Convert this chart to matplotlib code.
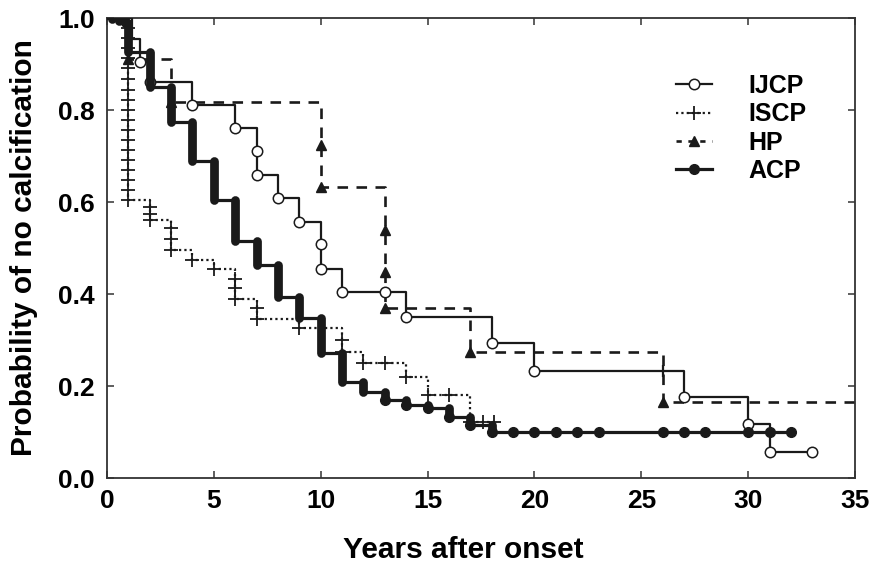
import numpy as np
import matplotlib
matplotlib.use("Agg")
import matplotlib.pyplot as plt
from matplotlib.lines import Line2D

plt.rcParams['font.family'] = ['Liberation Sans', 'DejaVu Sans']
plt.rcParams['font.weight'] = 'bold'

# ---------------- data ----------------
# IJCP: event times and survival after each event
ijcp_t = [1.15, 1.55, 2, 4, 6, 7, 7, 8, 9, 10, 10, 11, 14, 18, 20, 27, 30, 31]
ijcp_s = [0.955, 0.905, 0.86, 0.81, 0.76, 0.711, 0.659, 0.609, 0.557, 0.509, 0.454,
          0.405, 0.35, 0.293, 0.233, 0.176, 0.117, 0.057]
ijcp_cens_circ_t = [13, 33]
ijcp_cens_tick_t = [26]
ijcp_end = 33

# ISCP
iscp_t = [1] * 18 + [2, 2, 2, 3, 3, 3, 4, 5, 6, 6, 6, 7, 7, 9, 11, 11, 12, 14, 15, 17]
iscp_s = [0.978, 0.957, 0.935, 0.913, 0.891, 0.867, 0.843, 0.822, 0.800, 0.778, 0.757,
          0.735, 0.713, 0.691, 0.670, 0.648, 0.626, 0.604,
          0.59, 0.575, 0.56, 0.543, 0.52, 0.496, 0.474, 0.454, 0.433, 0.413, 0.389,
          0.37, 0.346, 0.326, 0.30, 0.274, 0.25, 0.22, 0.18, 0.122]
iscp_cens_t = [13, 16, 17.6, 18.1]
iscp_end = 18.2

# HP
hp_t = [1, 3, 10, 10, 13, 13, 13, 17, 26]
hp_s = [0.91, 0.817, 0.724, 0.633, 0.539, 0.448, 0.37, 0.275, 0.165]
hp_end = 35

# ACP
acp_t = [0.25, 0.55, 0.85, 1, 2, 3, 4, 5, 6, 7, 8, 9, 10, 11, 12, 13, 14, 15, 16, 17, 18]
acp_s = [0.997, 0.994, 0.99, 0.926, 0.85, 0.774, 0.69, 0.604, 0.515, 0.463, 0.394, 0.347,
         0.271, 0.209, 0.187, 0.17, 0.159, 0.152, 0.133, 0.115, 0.10]
acp_cens_t = [19, 20, 21, 22, 23, 26, 27, 28, 30, 31, 32]
acp_end = 32

labels = ["IJCP", "ISCP", "HP", "ACP"]
xticks = [0, 5, 10, 15, 20, 25, 30, 35]
yticks = [0.0, 0.2, 0.4, 0.6, 0.8, 1.0]


def km_xy(t, s, end):
    x = [0] + list(t) + [end]
    y = [1.0] + list(s) + [s[-1]]
    return x, y


def level_at(t, s, x):
    lv = 1.0
    for ti, si in zip(t, s):
        if ti <= x:
            lv = si
    return lv


fig = plt.figure(figsize=(8.71, 5.66), dpi=100)
ax = fig.add_axes([107 / 871, 1 - 478 / 566, (855 - 107) / 871, (478 - 18) / 566])

K = '#1a1a1a'

# HP (dashed, triangles)
x, y = km_xy(hp_t, hp_s, hp_end)
ax.plot(x, y, drawstyle='steps-post', color=K, lw=1.9, dashes=(4, 3.2), zorder=2)
ax.plot(hp_t, hp_s, ls='none', marker='^', ms=7.5, color=K, zorder=3)

# ISCP (dotted, plus)
x, y = km_xy(iscp_t, iscp_s, iscp_end)
ax.plot(x, y, drawstyle='steps-post', color=K, lw=1.6, dashes=(1, 1.4), zorder=2)
ax.plot(iscp_t, iscp_s, ls='none', marker='+', ms=10, mew=1.3, color=K, zorder=3)
ax.plot(iscp_cens_t, [level_at(iscp_t, iscp_s, c) for c in iscp_cens_t], ls='none',
        marker='+', ms=10, mew=1.3, color=K, zorder=3)

# IJCP (solid thin, open circles)
x, y = km_xy(ijcp_t, ijcp_s, ijcp_end)
ax.plot(x, y, drawstyle='steps-post', color=K, lw=1.6, zorder=4)
ax.plot(ijcp_t[1:], ijcp_s[1:], ls='none', marker='o', ms=7.5, mfc='white', mec=K, mew=1.1,
        zorder=5)
ax.plot(ijcp_cens_circ_t, [level_at(ijcp_t, ijcp_s, c) for c in ijcp_cens_circ_t], ls='none',
        marker='o', ms=7.5, mfc='white', mec=K, mew=1.1, zorder=5)
ax.plot(ijcp_cens_tick_t, [level_at(ijcp_t, ijcp_s, c) for c in ijcp_cens_tick_t], ls='none',
        marker='|', ms=9, mew=1.6, color=K, zorder=5)

# ACP (solid thick, filled circles)
x, y = km_xy(acp_t, acp_s, acp_end)
ax.plot(x, y, drawstyle='steps-post', color=K, lw=2.3, zorder=6)
prev = [1.0] + acp_s[:-1]
vl = ax.vlines(acp_t, prev, acp_s, colors=K, lw=6.3, zorder=6)
vl.set_capstyle('round')
ax.plot(acp_t[15:], acp_s[15:], ls='none', marker='o', ms=7, color=K, zorder=7)
ax.plot(acp_cens_t, [level_at(acp_t, acp_s, c) for c in acp_cens_t], ls='none',
        marker='o', ms=7, color=K, zorder=7)

# axes styling
ax.set_xlim(0, 35)
ax.set_ylim(0, 1.0)
ax.set_xticks(xticks)
ax.set_yticks(yticks)
ax.set_xticklabels([str(v) for v in xticks])
ax.set_yticklabels([f"{v:.1f}" for v in yticks])
ax.tick_params(direction='in', top=True, right=True, length=5, width=1.1, color='#333333',
               labelsize=19)
ax.tick_params(axis='y', pad=9)
ax.tick_params(axis='x', pad=8)
for sp in ax.spines.values():
    sp.set_linewidth(1.3)
    sp.set_color('#333333')

ax.set_xlabel("Years after onset", fontsize=21.5, fontweight='bold')
ax.xaxis.set_label_coords(0.477, -0.125)
ax.set_ylabel("Probability of no calcification", fontsize=21.5, fontweight='bold', labelpad=14)

# legend
handles = [
    Line2D([], [], color=K, lw=1.6, marker='o', ms=7.5, mfc='white', mec=K, mew=1.1),
    Line2D([], [], color=K, lw=1.6, dashes=(1, 1.4), marker='+', ms=10, mew=1.3),
    Line2D([], [], color=K, lw=1.9, dashes=(2, 2.5), marker='^', ms=7.5),
    Line2D([], [], color=K, lw=2.3, marker='o', ms=7),
]
ax.legend(handles, labels, loc='upper left', bbox_to_anchor=(676 / 871, 1 - 74 / 566),
          bbox_transform=fig.transFigure, frameon=False,
          handlelength=1.45, handletextpad=1.45, labelspacing=0.17, borderpad=0,
          borderaxespad=0, prop={'weight': 'bold', 'size': 18})

fig.savefig("out.png", dpi=100)
